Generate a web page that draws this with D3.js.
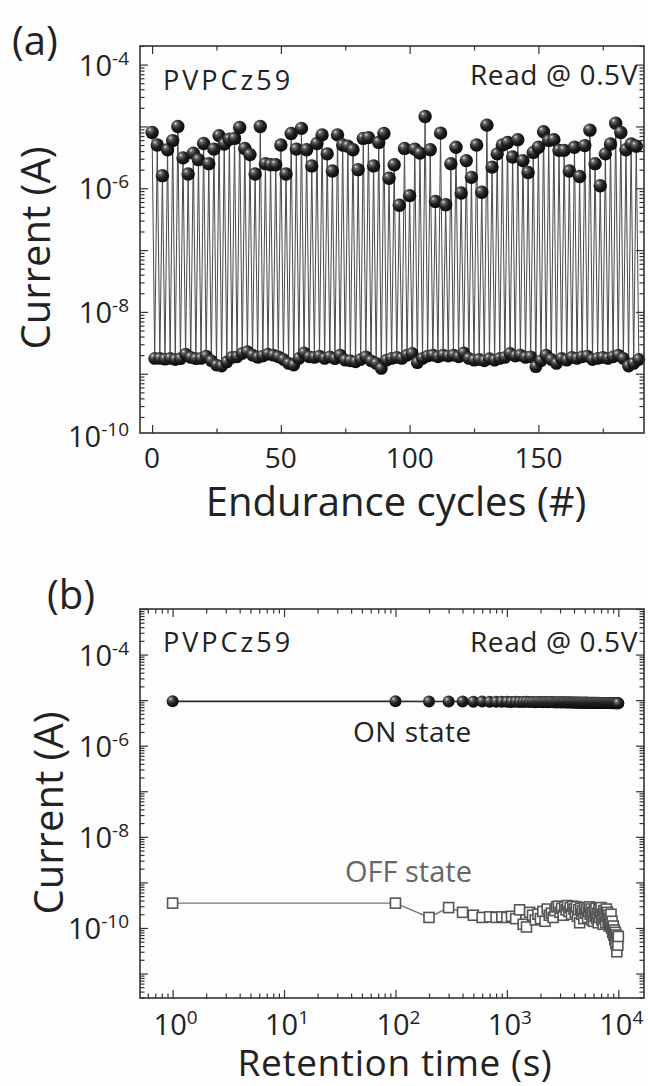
<!DOCTYPE html>
<html>
<head>
<meta charset="utf-8">
<script src="https://cdn.jsdelivr.net/npm/d3@7"></script>
<style>
  body { margin: 0; background: #fff; }
  svg { display: block; font-family: 'Open Sans', 'Noto Sans', sans-serif; }
</style>
</head>
<body>
<div id="chart"></div>
<script>
// (a) endurance: ON / OFF read currents, alternating readings (A)
const onA = [
  8.0e-6, 5.0e-6, 1.6e-6, 4.2e-6, 5.9e-6, 1.0e-5, 3.1e-6, 1.7e-6, 3.7e-6, 2.9e-6,
  5.3e-6, 2.5e-6, 4.3e-6, 7.1e-6, 5.2e-6, 6.2e-6, 6.4e-6, 9.6e-6, 4.4e-6, 3.5e-6,
  1.7e-6, 1.0e-5, 2.5e-6, 2.4e-6, 2.4e-6, 5.0e-6, 1.7e-6, 7.7e-6, 4.3e-6, 9.3e-6,
  4.2e-6, 2.3e-6, 5.3e-6, 7.3e-6, 3.6e-6, 1.9e-6, 7.3e-6, 5.0e-6, 4.8e-6, 4.2e-6,
  2.0e-6, 6.4e-6, 6.6e-6, 2.3e-6, 5.5e-6, 7.7e-6, 1.45e-6, 2.4e-6,
  5.3e-7, 4.4e-6, 7.6e-7, 4.3e-6, 3.7e-6, 1.45e-5, 4.2e-6, 6.1e-7, 7.8e-6, 5.4e-7,
  2.5e-6, 4.6e-6, 8.4e-7, 2.8e-6, 1.5e-6, 5.0e-6, 8.6e-7, 1.05e-5, 2.2e-6, 3.6e-6,
  5.0e-6, 5.5e-6, 3.2e-6, 6.1e-6, 2.8e-6, 1.8e-6, 3.8e-6, 4.6e-6, 8.2e-6, 5.9e-6,
  6.1e-6, 4.1e-6, 4.1e-6, 1.9e-6, 4.6e-6, 1.55e-6, 4.9e-6, 8.7e-6, 2.5e-6, 1.1e-6,
  3.6e-6, 5.2e-6, 1.13e-5, 8.0e-6, 4.2e-6, 5.2e-6, 4.8e-6
];
const offA = [
  1.77, 1.77, 1.72, 1.77, 1.70, 1.75, 2.08, 1.84, 1.75, 1.77,
  1.93, 1.62, 1.38, 1.33, 1.55, 1.84, 1.88, 2.13, 2.27, 2.00,
  1.84, 1.93, 2.08, 2.00, 1.88, 1.70, 1.47, 1.38, 1.77, 2.18,
  1.88, 1.84, 1.93, 1.77, 1.88, 1.75, 2.00, 1.66, 1.62, 1.56,
  1.70, 1.88, 1.62, 1.47, 1.22, 1.66, 1.77, 1.84, 1.77, 2.00,
  2.13, 1.51, 1.77, 1.93, 2.00, 1.88, 2.00, 1.93, 2.00, 1.88,
  2.18, 1.77, 1.66, 1.70, 1.62, 1.75, 1.66, 1.77, 1.84, 2.13,
  1.93, 2.00, 1.84, 1.88, 1.30, 1.62, 2.00, 1.70, 1.47, 1.77,
  1.66, 1.84, 1.77, 1.88, 1.93, 1.70, 1.77, 1.84, 1.77, 1.88,
  2.00, 1.77, 1.33, 1.47, 1.70
].map(v => v * 1e-9);
const cycleTicks = [0, 50, 100, 150];
const cycleMinorTicks = [25, 75, 125, 175];

// (b) retention: read time (s) and currents (A)
const timeB = [
  1, 100, 200, 300, 400, 500, 600, 700, 800, 900,
  1000, 1100, 1200, 1300, 1400, 1500, 1600, 1700, 1800, 1900,
  2000, 2100, 2200, 2300, 2400, 2500, 2600, 2700, 2800, 2900,
  3000, 3100, 3200, 3300, 3400, 3500, 3600, 3700, 3800, 3900,
  4000, 4100, 4200, 4300, 4400, 4500, 4600, 4700, 4800, 4900,
  5000, 5100, 5200, 5300, 5400, 5500, 5600, 5700, 5800, 5900,
  6000, 6100, 6200, 6300, 6400, 6500, 6600, 6700, 6800, 6900,
  7000, 7100, 7200, 7300, 7400, 7500, 7600, 7700, 7800, 7900,
  8000, 8100, 8200, 8300, 8400, 8500, 8600, 8700, 8800, 8900,
  9000, 9100, 9200, 9300, 9400, 9500, 9600, 9700, 9800, 9900,
  10000
];
const onB = [
  9.4, 9.4, 9.3, 9.3, 9.3, 9.2, 9.3, 9.2, 9.2, 9.2,
  9.2, 9.1, 9.2, 9.1, 9.1, 9.2, 9.1, 9.1, 9.0, 9.1,
  9.1, 9.0, 9.1, 9.0, 9.0, 9.1, 9.0, 9.0, 8.9, 9.0,
  9.0, 8.9, 9.0, 9.0, 8.9, 8.9, 9.0, 8.9, 8.9, 8.9,
  8.9, 8.9, 8.8, 8.9, 8.9, 8.8, 8.9, 8.8, 8.8, 8.9,
  8.8, 8.8, 8.9, 8.8, 8.8, 8.8, 8.7, 8.8, 8.8, 8.8,
  8.7, 8.8, 8.8, 8.7, 8.8, 8.7, 8.7, 8.8, 8.7, 8.7,
  8.7, 8.7, 8.6, 8.7, 8.7, 8.7, 8.6, 8.7, 8.6, 8.7,
  8.6, 8.6, 8.7, 8.6, 8.6, 8.6, 8.6, 8.5, 8.6, 8.6,
  8.6, 8.5, 8.6, 8.5, 8.6, 8.5, 8.5, 8.6, 8.5, 8.5,
  8.5
].map(v => v * 1e-6);
const offB = [
  3.5, 3.5, 1.7, 2.8, 2.2, 1.9, 1.7, 1.75, 1.7, 1.75,
  1.7, 1.8, 1.6, 2.5, 1.2, 1.05, 2.2, 1.9, 1.5, 2.0,
  1.6, 2.3, 1.4, 2.6, 1.9, 2.1, 1.7, 2.4, 2.9, 3.0,
  2.2, 2.7, 1.9, 2.9, 2.5, 3.1, 2.3, 2.8, 2.0, 3.0,
  2.6, 2.2, 2.9, 1.8, 2.5, 1.3, 2.7, 2.0, 2.4, 1.6,
  2.8, 2.1, 2.6, 1.7, 2.3, 2.9, 2.0, 2.6, 1.5, 2.2,
  1.4, 2.4, 1.8, 2.7, 1.6, 2.1, 1.3, 2.5, 1.7, 2.2,
  2.8, 1.5, 2.0, 1.2, 2.4, 1.6, 2.1, 1.3, 2.6, 1.8,
  2.2, 1.4, 1.9, 1.1, 1.6, 1.2, 2.0, 1.0, 1.4, 0.8,
  1.1, 0.7, 0.9, 0.55, 0.8, 0.45, 0.7, 0.3, 0.6, 0.42,
  0.65
].map(v => v * 1e-10);

const W = 648, H = 1086;
const svg = d3.select('#chart').append('svg').attr('width', W).attr('height', H);
svg.append('rect').attr('width', W).attr('height', H).attr('fill', '#fdfdfd');

const ball = svg.append('defs').append('radialGradient')
  .attr('id', 'ball').attr('cx', '40%').attr('cy', '38%').attr('r', '65%')
  .attr('fx', '32%').attr('fy', '28%');
ball.append('stop').attr('offset', '0%').attr('stop-color', '#e8e8e8');
ball.append('stop').attr('offset', '20%').attr('stop-color', '#6a6a6a');
ball.append('stop').attr('offset', '55%').attr('stop-color', '#222');
ball.append('stop').attr('offset', '100%').attr('stop-color', '#060606');

const box = { left: 140, right: 644 };
const MAJOR = 8, MINOR = 4.5;

function isDecade(v) {
  const l = Math.log10(v);
  return Math.abs(l - Math.round(l)) < 1e-9;
}

function ticksOn(g, axis, pos, values, size) {
  g.append('g')
    .attr('transform', pos)
    .call(axis.tickValues(values).tickSize(-size).tickFormat(''))
    .call(s => s.select('.domain').remove())
    .selectAll('line').attr('stroke', '#333').attr('stroke-width', 1.2);
}

function frame(x, y, top, bottom, xMajor, xMinor, yMajor, yMinor) {
  const g = svg.append('g');
  ticksOn(g, d3.axisBottom(x), `translate(0,${bottom})`, xMajor, MAJOR);
  ticksOn(g, d3.axisBottom(x), `translate(0,${bottom})`, xMinor, MINOR);
  ticksOn(g, d3.axisTop(x), `translate(0,${top})`, xMajor, MAJOR);
  ticksOn(g, d3.axisTop(x), `translate(0,${top})`, xMinor, MINOR);
  ticksOn(g, d3.axisLeft(y), `translate(${box.left},0)`, yMajor, MAJOR);
  ticksOn(g, d3.axisLeft(y), `translate(${box.left},0)`, yMinor, MINOR);
  ticksOn(g, d3.axisRight(y), `translate(${box.right},0)`, yMajor, MAJOR);
  ticksOn(g, d3.axisRight(y), `translate(${box.right},0)`, yMinor, MINOR);
  g.append('rect')
    .attr('x', box.left).attr('y', top)
    .attr('width', box.right - box.left).attr('height', bottom - top)
    .attr('fill', 'none').attr('stroke', '#333').attr('stroke-width', 1.6);
}

function powLabel(sel, exp) {
  sel.append('tspan').text('10');
  sel.append('tspan').attr('dy', -11).attr('font-size', 19).text(exp);
}

function yLabels(y, exps) {
  exps.forEach(e => {
    svg.append('text')
      .attr('x', 129).attr('y', y(Math.pow(10, e)) + 11)
      .attr('text-anchor', 'end').attr('font-size', 29).attr('fill', '#222')
      .call(powLabel, String(e));
  });
}

function text(x, y, str, size, opts = {}) {
  return svg.append('text')
    .attr('x', x).attr('y', y)
    .attr('font-size', size)
    .attr('fill', opts.fill || '#222')
    .attr('text-anchor', opts.anchor || 'start')
    .attr('letter-spacing', opts.spacing || 0)
    .text(str);
}

// ---------- panel (a) ----------
const topA = 46, bottomA = 433;
const xA = d3.scaleLinear().domain([-4.7, 191]).range([box.left, box.right]);
const yA = d3.scaleLog().domain([1.1e-10, 2e-4]).range([bottomA, topA]);

const seqA = [];
onA.forEach((v, i) => {
  seqA.push({ n: 2 * i, v, s: 'on' });
  seqA.push({ n: 2 * i + 1, v: offA[i], s: 'off' });
});

svg.append('path')
  .datum(seqA)
  .attr('fill', 'none').attr('stroke', '#4a4a4a').attr('stroke-width', 1)
  .attr('d', d3.line().x(d => xA(d.n)).y(d => yA(d.v)));

svg.append('g').selectAll('circle')
  .data(seqA)
  .join('circle')
  .attr('cx', d => xA(d.n)).attr('cy', d => yA(d.v))
  .attr('r', d => (d.s === 'on' ? 6.7 : 6.4))
  .attr('fill', 'url(#ball)');

const yTicksA = yA.ticks();
frame(xA, yA, topA, bottomA, cycleTicks, cycleMinorTicks,
  yTicksA.filter(isDecade), yTicksA.filter(v => !isDecade(v)));

yLabels(yA, [-4, -6, -8, -10]);
cycleTicks.forEach(t => text(xA(t), 468, String(t), 28, { anchor: 'middle' }));

text(163, 90, 'PVPCz59', 27, { spacing: 3 });
text(638, 85, 'Read @  0.5V', 28, { anchor: 'end', spacing: 0.6 });
text(12, 55, '(a)', 40);
text(396, 516, 'Endurance cycles (#)', 40, { anchor: 'middle' });
svg.append('text')
  .attr('transform', 'translate(50,248) rotate(-90)')
  .attr('text-anchor', 'middle').attr('font-size', 40).attr('fill', '#222')
  .text('Current (A)');

// ---------- panel (b) ----------
const topB = 609, bottomB = 998;
const xB = d3.scaleLog().domain([0.51, 1.7e4]).range([box.left, box.right]);
const yB = d3.scaleLog().domain([2.9e-12, 1e-3]).range([bottomB, topB]);

const onSeqB = timeB.map((t, i) => ({ t, v: onB[i] }));
const offSeqB = timeB.map((t, i) => ({ t, v: offB[i] }));
const lineB = d3.line().x(d => xB(d.t)).y(d => yB(d.v));

svg.append('path').datum(offSeqB)
  .attr('fill', 'none').attr('stroke', '#777').attr('stroke-width', 1.3)
  .attr('d', lineB);
svg.append('g').selectAll('rect')
  .data(offSeqB)
  .join('rect')
  .attr('x', d => xB(d.t) - 5).attr('y', d => yB(d.v) - 5)
  .attr('width', 10).attr('height', 10)
  .attr('fill', '#fff').attr('stroke', '#555').attr('stroke-width', 1.6);

svg.append('path').datum(onSeqB)
  .attr('fill', 'none').attr('stroke', '#2a2a2a').attr('stroke-width', 1.6)
  .attr('d', lineB);
svg.append('g').selectAll('circle')
  .data(onSeqB)
  .join('circle')
  .attr('cx', d => xB(d.t)).attr('cy', d => yB(d.v))
  .attr('r', 6)
  .attr('fill', 'url(#ball)');

const xTicksB = xB.ticks();
const yTicksB = yB.ticks();
frame(xB, yB, topB, bottomB,
  xTicksB.filter(isDecade), xTicksB.filter(v => !isDecade(v)),
  yTicksB.filter(isDecade), yTicksB.filter(v => !isDecade(v)));

yLabels(yB, [-4, -6, -8, -10]);
[0, 1, 2, 3, 4].forEach(e => {
  svg.append('text')
    .attr('x', xB(Math.pow(10, e)) + 3).attr('y', 1035)
    .attr('text-anchor', 'middle').attr('font-size', 29).attr('fill', '#222')
    .call(powLabel, String(e));
});

text(163, 652, 'PVPCz59', 27, { spacing: 3 });
text(638, 652, 'Read @  0.5V', 28, { anchor: 'end', spacing: 0.6 });
text(353, 742, 'ON state', 28, { spacing: 0.5 });
text(345, 882, 'OFF state', 29, { fill: '#666' });
text(47, 609, '(b)', 40);
text(395, 1076, 'Retention time (s)', 37, { anchor: 'middle', spacing: 0.6 });
svg.append('text')
  .attr('transform', 'translate(63,813) rotate(-90)')
  .attr('text-anchor', 'middle').attr('font-size', 40).attr('fill', '#222')
  .text('Current (A)');
</script>
</body>
</html>
